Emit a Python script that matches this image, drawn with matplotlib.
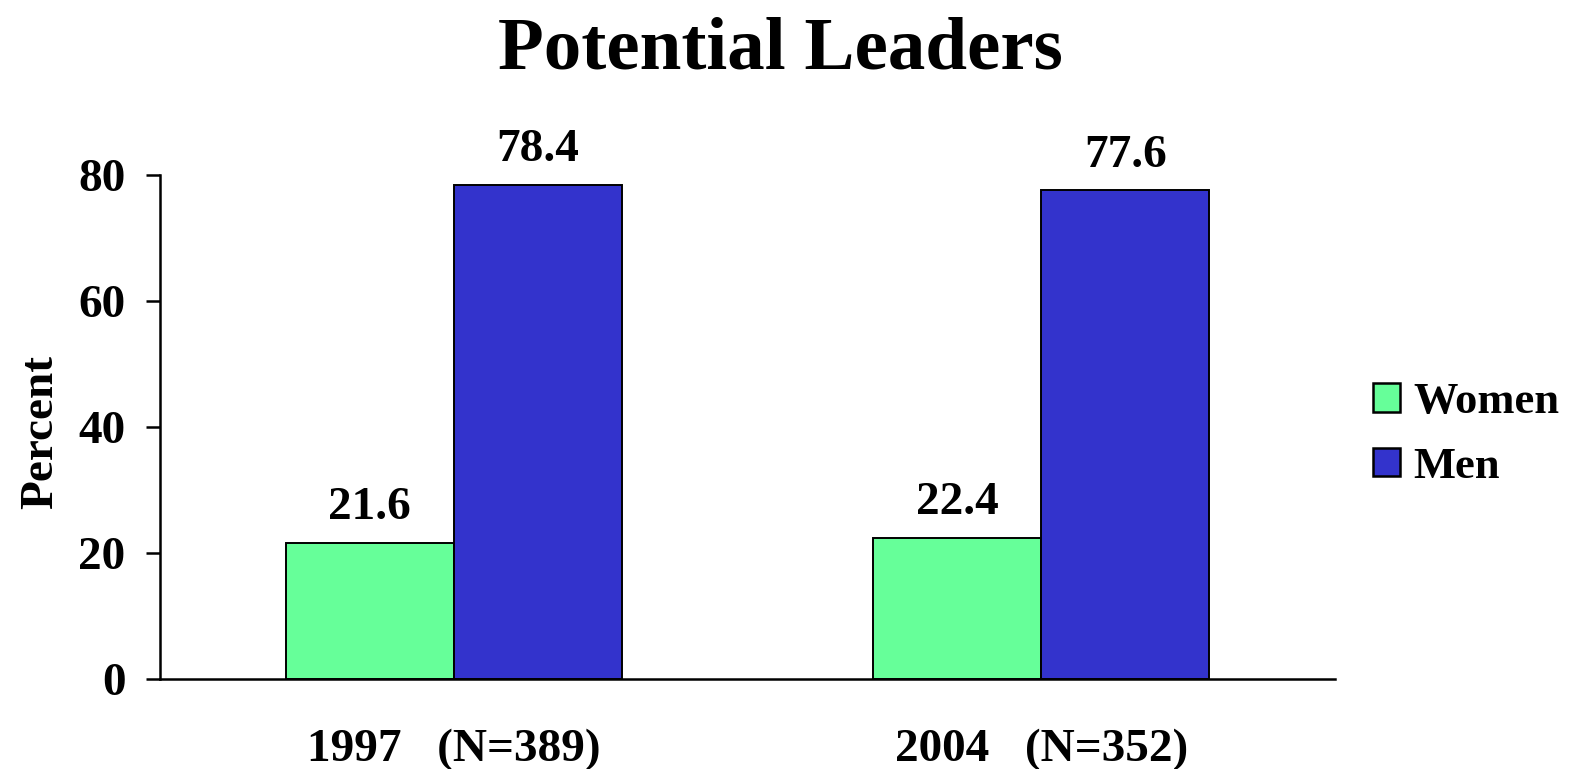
import matplotlib
matplotlib.use("Agg")
import matplotlib.pyplot as plt
import numpy as np
from matplotlib.patches import Patch

plt.rcParams['font.family'] = ['Liberation Serif', 'DejaVu Serif']
plt.rcParams['font.weight'] = 'bold'

# Data
years = ["1997   (N=389)", "2004   (N=352)"]
series_names = ["Women", "Men"]
women = [21.6, 22.4]
men = [78.4, 77.6]
colors = ["#66FF99", "#3333CC"]

fig = plt.figure(figsize=(15.78, 7.69), dpi=100)
ax = fig.add_axes([160 / 1578, 1 - 679 / 769, (1335 - 160) / 1578, (679 - 175) / 769])

x = np.arange(len(years))
w = 0.286
b1 = ax.bar(x - w / 2, women, w, color=colors[0], edgecolor="black", linewidth=1.4)
b2 = ax.bar(x + w / 2, men, w, color=colors[1], edgecolor="black", linewidth=1.4)

for bars, vals in ((b1, women), (b2, men)):
    for rect, v in zip(bars, vals):
        ax.annotate(f"{v:.1f}", (rect.get_x() + rect.get_width() / 2, v),
                    xytext=(0, 17), textcoords="offset points",
                    ha="center", va="baseline", fontsize=34, fontweight="bold")

ax.set_xlim(-0.5, 1.5)
ax.set_ylim(0, 80)
ax.set_yticks([0, 20, 40, 60, 80])
ax.set_xticks(x)
ax.set_xticklabels(years)
ax.tick_params(axis="y", length=10, width=1.8, pad=15, labelsize=34)
ax.tick_params(axis="x", length=0, pad=36, labelsize=34)
for lab in ax.get_xticklabels() + ax.get_yticklabels():
    lab.set_fontweight("bold")

for s in ("top", "right"):
    ax.spines[s].set_visible(False)
for s in ("left", "bottom"):
    ax.spines[s].set_linewidth(1.8)

ax.set_ylabel("Percent", fontsize=34, fontweight="bold", va="baseline")
ax.yaxis.set_label_coords((52 - 160) / 1175, 0.49)

fig.suptitle("Potential Leaders", x=0.4945, y=0.978, va="top", fontsize=54, fontweight="bold")

handles = [Patch(facecolor=c, edgecolor="black", linewidth=1.8) for c in colors]
fig.legend(handles, series_names, loc="center left", bbox_to_anchor=(0.845, 0.435),
           frameon=False, handlelength=0.6, handleheight=0.6,
           handletextpad=0.3, labelspacing=0.55, prop={"weight": "bold", "size": 32})

fig.savefig("out.png", dpi=100)
